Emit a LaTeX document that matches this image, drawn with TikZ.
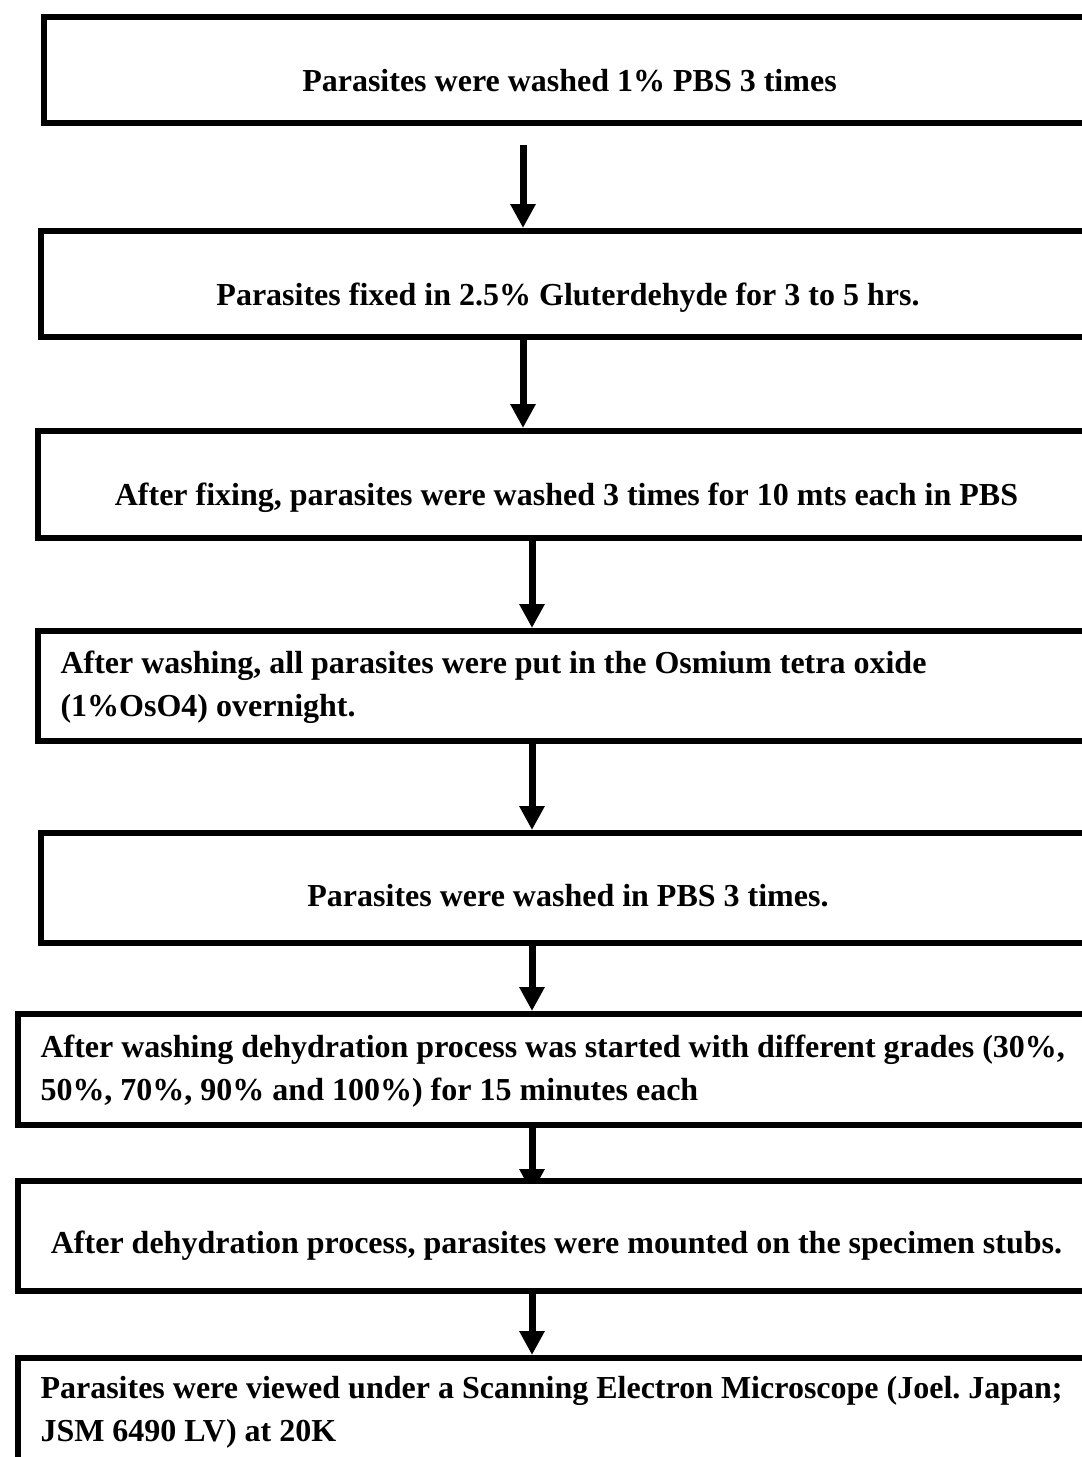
\documentclass[tikz,border=0pt]{standalone}
\usepackage{fontspec}
\setmainfont{Liberation Serif}
\usepackage{tikz}
\usetikzlibrary{arrows.meta}
\usetikzlibrary{backgrounds}
\frenchspacing
\newcommand{\stepfont}{\fontsize{32}{43}\selectfont\bfseries}
\tikzstyle{stepbox} = [rectangle, draw=black, line width=6pt, fill=white, inner sep=0pt, anchor=north west, font=\stepfont]
\tikzstyle{twoline} = [stepbox, inner xsep=23pt, text width=1100pt, align=flush left]
\tikzstyle{arrow} = [line width=7pt, -{Triangle[width=24pt,length=24pt]}]

\begin{document}
\begin{tikzpicture}[x=1pt, y=-1pt]

        \useasboundingbox (0,0) rectangle (1082,1457);
        \clip (0,0) rectangle (1082,1457);

        \node (wash_pbs) [stepbox, minimum width=1051pt, text height=74pt, text depth=32pt] at (41,14) {Parasites were washed 1\% PBS 3 times};
        \node (fix) [stepbox, minimum width=1054pt, text height=74pt, text depth=32pt] at (38,228) {Parasites fixed in 2.5\% Gluterdehyde for 3 to 5 hrs.};
        \node (wash_fix) [stepbox, minimum width=1058pt, text height=74pt, text depth=33pt] at (34.5,428) {After fixing, parasites were washed 3 times for 10 mts each in PBS};
        \node (osmium) [twoline, text height=42pt, text depth=68pt] at (34.5,628) {After washing, all parasites were put in the Osmium tetra oxide\\(1\%OsO4) overnight.};
        \node (wash_again) [stepbox, minimum width=1054pt, text height=73pt, text depth=37pt] at (38,830) {Parasites were washed in PBS 3 times.};
        \node (dehydrate) [twoline, text height=43pt, text depth=68pt] at (14.5,1011) {After washing dehydration process was started with different grades (30\%,\\50\%, 70\%, 90\% and 100\%) for 15 minutes each};
        \node (mount) [stepbox, minimum width=1078pt, text height=72pt, text depth=38pt] at (14.5,1178) {After dehydration process, parasites were mounted on the specimen stubs.};
        \node (view_sem) [twoline, text height=40pt, text depth=115pt] at (14.5,1355) {Parasites were viewed under a Scanning Electron Microscope (Joel. Japan;\\JSM 6490 LV) at 20K};

        \coordinate (start_arrow) at (523,145);
        \coordinate (right_arrow) at (532,0);

        \begin{scope}[on background layer]
        \draw [arrow] (start_arrow) -- (fix.north -| start_arrow);
        \draw [arrow] (fix.south -| start_arrow) -- (wash_fix.north -| start_arrow);
        \draw [arrow] (wash_fix.south -| right_arrow) -- (osmium.north -| right_arrow);
        \draw [arrow] (osmium.south -| right_arrow) -- (wash_again.north -| right_arrow);
        \draw [arrow] (wash_again.south -| right_arrow) -- (dehydrate.north -| right_arrow);
        \draw [arrow] (dehydrate.south -| right_arrow) -- ([yshift=-15pt]mount.north -| right_arrow);
        \draw [arrow] (mount.south -| right_arrow) -- (view_sem.north -| right_arrow);
        \end{scope}
    \end{tikzpicture}
\end{document}
